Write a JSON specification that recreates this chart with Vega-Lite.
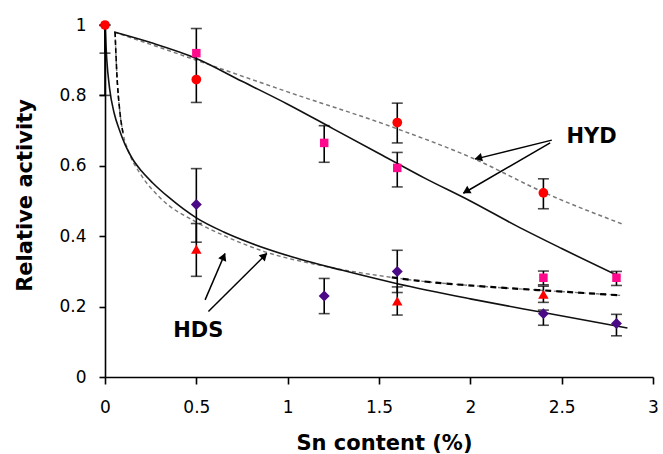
{
  "$schema": "https://vega.github.io/schema/vega-lite/v6.json",
  "width": 548,
  "height": 352,
  "autosize": "none",
  "padding": {"left": 105, "top": 25, "right": 10, "bottom": 77},
  "background": "white",
  "config": {
    "view": {"stroke": null},
    "axis": {
      "grid": false,
      "domainColor": "#000",
      "domainWidth": 1.6,
      "tickColor": "#000",
      "tickWidth": 1.6,
      "labelFont": "DejaVu Sans",
      "labelFontSize": 17,
      "labelColor": "#000",
      "titleFont": "DejaVu Sans",
      "titleFontSize": 21,
      "titleFontWeight": "bold",
      "titleColor": "#000",
      "labelFlush": false,
      "labelOverlap": false
    }
  },
  "datasets": {
    "lines": [
      {"series": "HYD solid", "x": 0.05, "y": 0.98},
      {"series": "HYD solid", "x": 0.25, "y": 0.95},
      {"series": "HYD solid", "x": 0.5, "y": 0.905},
      {"series": "HYD solid", "x": 0.75, "y": 0.84},
      {"series": "HYD solid", "x": 1.0, "y": 0.775},
      {"series": "HYD solid", "x": 1.25, "y": 0.705},
      {"series": "HYD solid", "x": 1.5, "y": 0.635},
      {"series": "HYD solid", "x": 1.75, "y": 0.565},
      {"series": "HYD solid", "x": 2.0, "y": 0.5},
      {"series": "HYD solid", "x": 2.25, "y": 0.43},
      {"series": "HYD solid", "x": 2.5, "y": 0.365},
      {"series": "HYD solid", "x": 2.82, "y": 0.285},
      {"series": "HYD dashed", "x": 0.05, "y": 0.98},
      {"series": "HYD dashed", "x": 0.25, "y": 0.945},
      {"series": "HYD dashed", "x": 0.5, "y": 0.9},
      {"series": "HYD dashed", "x": 1.0, "y": 0.81},
      {"series": "HYD dashed", "x": 1.6, "y": 0.705},
      {"series": "HYD dashed", "x": 2.02, "y": 0.62},
      {"series": "HYD dashed", "x": 2.4, "y": 0.525},
      {"series": "HYD dashed", "x": 2.83, "y": 0.435},
      {"series": "HDS solid", "x": 0, "y": 1},
      {"series": "HDS solid", "x": 0.01, "y": 0.9},
      {"series": "HDS solid", "x": 0.025, "y": 0.82},
      {"series": "HDS solid", "x": 0.05, "y": 0.75},
      {"series": "HDS solid", "x": 0.08, "y": 0.7},
      {"series": "HDS solid", "x": 0.11, "y": 0.66},
      {"series": "HDS solid", "x": 0.15, "y": 0.62},
      {"series": "HDS solid", "x": 0.2, "y": 0.585},
      {"series": "HDS solid", "x": 0.26, "y": 0.552},
      {"series": "HDS solid", "x": 0.35, "y": 0.51},
      {"series": "HDS solid", "x": 0.5, "y": 0.452},
      {"series": "HDS solid", "x": 0.65, "y": 0.412},
      {"series": "HDS solid", "x": 0.8, "y": 0.38},
      {"series": "HDS solid", "x": 1.0, "y": 0.345},
      {"series": "HDS solid", "x": 1.3, "y": 0.303},
      {"series": "HDS solid", "x": 1.6, "y": 0.265},
      {"series": "HDS solid", "x": 2.0, "y": 0.222},
      {"series": "HDS solid", "x": 2.4, "y": 0.183},
      {"series": "HDS solid", "x": 2.86, "y": 0.139},
      {"series": "HDS dashed", "x": 0.055, "y": 0.98},
      {"series": "HDS dashed", "x": 0.065, "y": 0.86},
      {"series": "HDS dashed", "x": 0.08, "y": 0.76},
      {"series": "HDS dashed", "x": 0.1, "y": 0.69},
      {"series": "HDS dashed", "x": 0.13, "y": 0.64},
      {"series": "HDS dashed", "x": 0.2, "y": 0.572},
      {"series": "HDS dashed", "x": 0.3, "y": 0.51},
      {"series": "HDS dashed", "x": 0.5, "y": 0.44},
      {"series": "HDS dashed", "x": 0.65, "y": 0.402},
      {"series": "HDS dashed", "x": 0.88, "y": 0.355},
      {"series": "HDS dashed", "x": 1.17, "y": 0.318},
      {"series": "HDS dashed", "x": 1.57, "y": 0.283},
      {"series": "HDS dashed", "x": 1.72, "y": 0.273},
      {"series": "HDS dashed", "x": 2.08, "y": 0.257},
      {"series": "HDS dashed", "x": 2.37, "y": 0.247},
      {"series": "HDS dashed", "x": 2.52, "y": 0.242},
      {"series": "HDS dashed", "x": 2.82, "y": 0.232}
    ],
    "points": [
      {"group": "HYD circle", "x": 0, "y": 1},
      {"group": "HYD circle", "x": 0.5, "y": 0.845},
      {"group": "HYD circle", "x": 1.6, "y": 0.723},
      {"group": "HYD circle", "x": 2.4, "y": 0.523},
      {"group": "HYD square", "x": 0.5, "y": 0.92},
      {"group": "HYD square", "x": 1.2, "y": 0.665},
      {"group": "HYD square", "x": 1.6, "y": 0.594},
      {"group": "HYD square", "x": 2.4, "y": 0.282},
      {"group": "HYD square", "x": 2.8, "y": 0.282},
      {"group": "HDS diamond", "x": 0.5, "y": 0.49},
      {"group": "HDS diamond", "x": 1.2, "y": 0.23},
      {"group": "HDS diamond", "x": 1.6, "y": 0.3},
      {"group": "HDS diamond", "x": 2.4, "y": 0.18},
      {"group": "HDS diamond", "x": 2.8, "y": 0.152},
      {"group": "HDS triangle", "x": 0.5, "y": 0.363},
      {"group": "HDS triangle", "x": 1.6, "y": 0.216},
      {"group": "HDS triangle", "x": 2.4, "y": 0.235}
    ],
    "err": [
      {"x": 0, "lo": 0.92, "hi": 1.0},
      {"x": 0, "lo": 0.8, "hi": 1.0},
      {"x": 0.5, "lo": 0.78, "hi": 0.99},
      {"x": 0.5, "lo": 0.383, "hi": 0.592},
      {"x": 0.5, "lo": 0.286, "hi": 0.436},
      {"x": 1.2, "lo": 0.61, "hi": 0.714},
      {"x": 1.2, "lo": 0.18, "hi": 0.28},
      {"x": 1.6, "lo": 0.665, "hi": 0.778},
      {"x": 1.6, "lo": 0.54, "hi": 0.638},
      {"x": 1.6, "lo": 0.24, "hi": 0.36},
      {"x": 1.6, "lo": 0.176, "hi": 0.256},
      {"x": 2.4, "lo": 0.478, "hi": 0.563},
      {"x": 2.4, "lo": 0.262, "hi": 0.301},
      {"x": 2.4, "lo": 0.212, "hi": 0.258},
      {"x": 2.4, "lo": 0.147, "hi": 0.19},
      {"x": 2.8, "lo": 0.26, "hi": 0.3},
      {"x": 2.8, "lo": 0.117, "hi": 0.178}
    ],
    "labels": [
      {"text": "HYD", "x": 2.664, "y": 0.682},
      {"text": "HDS", "x": 0.511, "y": 0.131}
    ],
    "arrows": [
      {"id": "a1", "x": 2.446, "y": 0.673, "x2": 2.026, "y2": 0.619, "hx": 2.05, "hy": 0.623},
      {"id": "a2", "x": 2.437, "y": 0.665, "x2": 1.962, "y2": 0.522, "hx": 1.983, "hy": 0.529},
      {"id": "a3", "x": 0.548, "y": 0.219, "x2": 0.657, "y2": 0.351, "hx": 0.647, "hy": 0.339},
      {"id": "a4", "x": 0.566, "y": 0.186, "x2": 0.886, "y2": 0.351, "hx": 0.868, "hy": 0.342}
    ]
  },
  "encoding": {
    "x": {"type": "quantitative", "scale": {"domain": [0, 3], "nice": false, "zero": false}},
    "y": {"type": "quantitative", "scale": {"domain": [0, 1], "nice": false, "zero": false}}
  },
  "layer": [
    {
      "data": {"name": "lines"},
      "transform": [{"filter": "datum.series === 'HYD dashed'"}],
      "mark": {"type": "line", "color": "#777", "strokeWidth": 1.5, "strokeDash": [4, 3], "interpolate": "monotone"},
      "encoding": {
        "x": {"field": "x", "type": "quantitative", "title": "Sn content (%)",
          "axis": {"values": [0, 0.5, 1, 1.5, 2, 2.5, 3], "format": "~g", "tickSize": 7, "labelPadding": 15, "titleY": 72, "titleX": 279, "titleBaseline": "alphabetic", "titleAlign": "center"}},
        "y": {"field": "y", "type": "quantitative", "title": "Relative activity",
          "axis": {"values": [0, 0.2, 0.4, 0.6, 0.8, 1], "format": "~g", "tickSize": 6, "labelPadding": 13, "titleAngle": -90, "titleX": -80, "titleY": 170, "titleBaseline": "middle", "titleAlign": "center"}},
        "detail": {"field": "series"}
      }
    },
    {
      "data": {"name": "lines"},
      "transform": [{"filter": "datum.series === 'HDS dashed'"}],
      "mark": {"type": "line", "color": "#777", "strokeWidth": 1.4, "strokeDash": [4, 3], "interpolate": "monotone"},
      "encoding": {"x": {"field": "x", "type": "quantitative"}, "y": {"field": "y", "type": "quantitative"}}
    },
    {
      "data": {"name": "lines"},
      "transform": [{"filter": "datum.series === 'HDS dashed' && datum.x >= 1.5"}],
      "mark": {"type": "line", "color": "#000", "strokeWidth": 2.2, "strokeDash": [6, 5], "interpolate": "monotone"},
      "encoding": {"x": {"field": "x", "type": "quantitative"}, "y": {"field": "y", "type": "quantitative"}}
    },
    {
      "data": {"name": "lines"},
      "transform": [{"filter": "datum.series === 'HDS dashed' && datum.x <= 0.1"}],
      "mark": {"type": "line", "color": "#000", "strokeWidth": 1.6, "strokeDash": [5, 3], "interpolate": "monotone"},
      "encoding": {"x": {"field": "x", "type": "quantitative"}, "y": {"field": "y", "type": "quantitative"}}
    },
    {
      "data": {"name": "lines"},
      "transform": [{"filter": "datum.series === 'HYD solid' || datum.series === 'HDS solid'"}],
      "mark": {"type": "line", "color": "#111", "strokeWidth": 1.6, "interpolate": "monotone"},
      "encoding": {"x": {"field": "x", "type": "quantitative"}, "y": {"field": "y", "type": "quantitative"}, "detail": {"field": "series"}}
    },
    {
      "data": {"name": "err"},
      "mark": {"type": "rule", "color": "#000", "strokeWidth": 1.6},
      "encoding": {"x": {"field": "x", "type": "quantitative"}, "y": {"field": "lo", "type": "quantitative"}, "y2": {"field": "hi"}}
    },
    {
      "data": {"name": "err"},
      "mark": {"type": "tick", "color": "#000", "orient": "horizontal", "size": 11, "thickness": 1.6},
      "encoding": {"x": {"field": "x", "type": "quantitative"}, "y": {"field": "lo", "type": "quantitative"}}
    },
    {
      "data": {"name": "err"},
      "mark": {"type": "tick", "color": "#000", "orient": "horizontal", "size": 11, "thickness": 1.6},
      "encoding": {"x": {"field": "x", "type": "quantitative"}, "y": {"field": "hi", "type": "quantitative"}}
    },
    {
      "data": {"name": "points"},
      "mark": {"type": "point", "filled": true, "opacity": 1, "strokeWidth": 0},
      "encoding": {
        "x": {"field": "x", "type": "quantitative"},
        "y": {"field": "y", "type": "quantitative"},
        "shape": {"field": "group", "type": "nominal", "legend": null,
          "scale": {"domain": ["HYD circle", "HYD square", "HDS diamond", "HDS triangle"], "range": ["circle", "square", "diamond", "triangle-up"]}},
        "color": {"field": "group", "type": "nominal", "legend": null,
          "scale": {"domain": ["HYD circle", "HYD square", "HDS diamond", "HDS triangle"], "range": ["#ff0000", "#ff0a8c", "#4b0a85", "#ff0000"]}},
        "size": {"field": "group", "type": "nominal", "legend": null,
          "scale": {"type": "ordinal", "domain": ["HYD circle", "HYD square", "HDS diamond", "HDS triangle"], "range": [95, 72, 120, 110]}}
      }
    },
    {
      "data": {"name": "arrows"},
      "mark": {"type": "rule", "color": "#000", "strokeWidth": 1.5},
      "encoding": {"x": {"field": "x", "type": "quantitative"}, "y": {"field": "y", "type": "quantitative"}, "x2": {"field": "x2"}, "y2": {"field": "y2"}}
    },
    {
      "data": {"name": "arrows"},
      "mark": {"type": "point", "shape": "triangle", "filled": true, "color": "#000", "opacity": 1, "size": 75, "strokeWidth": 0},
      "encoding": {
        "x": {"field": "hx", "type": "quantitative"},
        "y": {"field": "hy", "type": "quantitative"},
        "angle": {"field": "id", "type": "nominal", "legend": null,
          "scale": {"type": "ordinal", "domain": ["a1", "a2", "a3", "a4"], "range": [256, 240, 23, 45]}}
      }
    },
    {
      "data": {"name": "labels"},
      "mark": {"type": "text", "font": "DejaVu Sans", "fontSize": 21, "fontWeight": "bold", "color": "#000", "align": "center", "baseline": "middle"},
      "encoding": {"x": {"field": "x", "type": "quantitative"}, "y": {"field": "y", "type": "quantitative"}, "text": {"field": "text"}}
    }
  ]
}
